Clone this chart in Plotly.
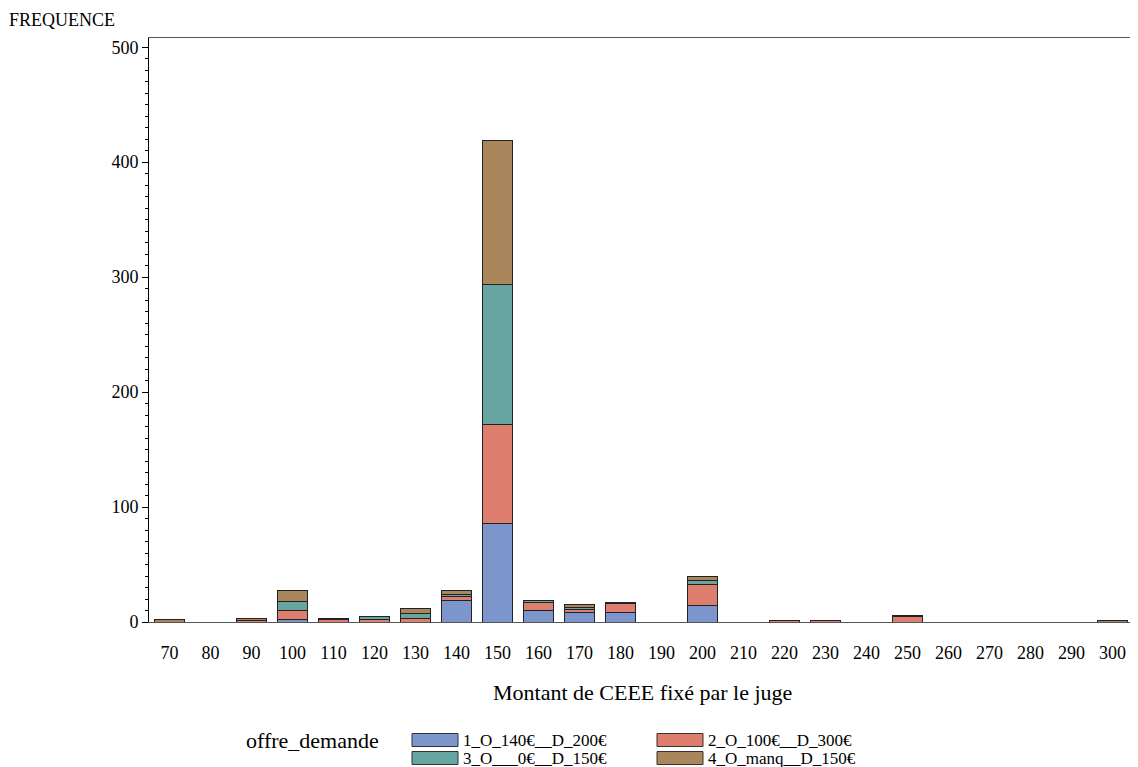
import plotly.graph_objects as go

montants = [str(v) for v in range(70, 310, 10)]

groupes = ["1_O_140€__D_200€", "2_O_100€__D_300€", "3_O___0€__D_150€", "4_O_manq__D_150€"]
couleurs = ["#7C95CA", "#DE7E6F", "#66A5A0", "#A9865B"]

#           70 80 90 100 110 120 130 140 150 160 170 180 190 200 210 220 230 240 250 260 270 280 290 300
freq_g1 = [0, 0, 0, 2, 0, 0, 0, 19, 86, 10, 8, 8, 0, 14, 0, 0, 0, 0, 0, 0, 0, 0, 0, 0]
freq_g2 = [0, 0, 1, 8, 2, 2, 3, 3, 86, 7, 3, 8, 0, 19, 0, 1, 1, 0, 5, 0, 0, 0, 0, 0]
freq_g3 = [0, 0, 0, 8, 0, 3, 4, 2, 122, 2, 2, 1, 0, 3, 0, 0, 0, 0, 1, 0, 0, 0, 0, 0]
freq_g4 = [2, 0, 2, 9, 1, 0, 5, 3, 125, 0, 2, 0, 0, 4, 0, 0, 0, 0, 0, 0, 0, 0, 0, 1]

series = [freq_g1, freq_g2, freq_g3, freq_g4]

POLICE = "Liberation Serif"

# zone de tracé (pixels de la page ; la page ajoute 8 px de marge au body)
G, D, H, B = 149, 1133, 38, 622
LARG, HAUT = D - G, B - H


def px_x(x):
    return (x - G) / LARG


def px_y(y):
    return (B - y) / HAUT


fig = go.Figure()
for nom, vals, coul in zip(groupes, series, couleurs):
    fig.add_trace(go.Bar(
        x=montants, y=[v if v else None for v in vals], name=nom,
        marker=dict(color=coul, line=dict(color="#222222", width=1)),
        showlegend=False,
    ))

fig.update_layout(
    barmode="stack", bargap=0.255,
    width=1130, height=759,
    margin=dict(l=G - 8, r=1138 - D, t=H - 8, b=767 - B),
    paper_bgcolor="white", plot_bgcolor="white",
    font=dict(family=POLICE, size=18, color="black"),
)

fig.update_xaxes(
    type="category", showgrid=False, ticks="", ticklabelstandoff=14,
    showline=True, linecolor="#555555", linewidth=1, mirror=True,
    tickfont=dict(size=18),
)
fig.update_yaxes(
    range=[0, 508], dtick=100, showgrid=False, zeroline=False,
    ticks="outside", ticklen=6, tickcolor="black",
    minor=dict(dtick=10, ticks="outside", ticklen=3, tickcolor="black"),
    showline=True, linecolor="black", linewidth=1, mirror=True,
    tickfont=dict(size=18),
)

fig.add_annotation(
    text="FREQUENCE", xref="paper", yref="paper",
    x=px_x(7), y=px_y(20), xanchor="left", yanchor="middle",
    showarrow=False, font=dict(size=18),
)
fig.add_annotation(
    text="Montant de CEEE fixé par le juge", xref="paper", yref="paper",
    x=px_x(642), y=px_y(692), xanchor="center", yanchor="middle",
    showarrow=False, font=dict(size=22),
)

# légende dessinée à la main : 2 colonnes x 2 lignes
fig.add_annotation(
    text="offre_demande", xref="paper", yref="paper",
    x=px_x(244), y=px_y(740), xanchor="left", yanchor="middle",
    showarrow=False, font=dict(size=22),
)
cols = [412, 657]
rows = [740, 758]
for i, (nom, coul) in enumerate(zip(groupes, couleurs)):
    cx, cy = cols[i % 2], rows[i // 2]
    fig.add_shape(
        type="rect", xref="paper", yref="paper",
        x0=px_x(cx), x1=px_x(cx + 46), y0=px_y(cy - 6.5), y1=px_y(cy + 6.5),
        fillcolor=coul, line=dict(color="#333333", width=1),
    )
    fig.add_annotation(
        text=nom, xref="paper", yref="paper",
        x=px_x(cx + 49), y=px_y(cy), xanchor="left", yanchor="middle",
        showarrow=False, font=dict(size=17),
    )

fig.write_html("out.html")
